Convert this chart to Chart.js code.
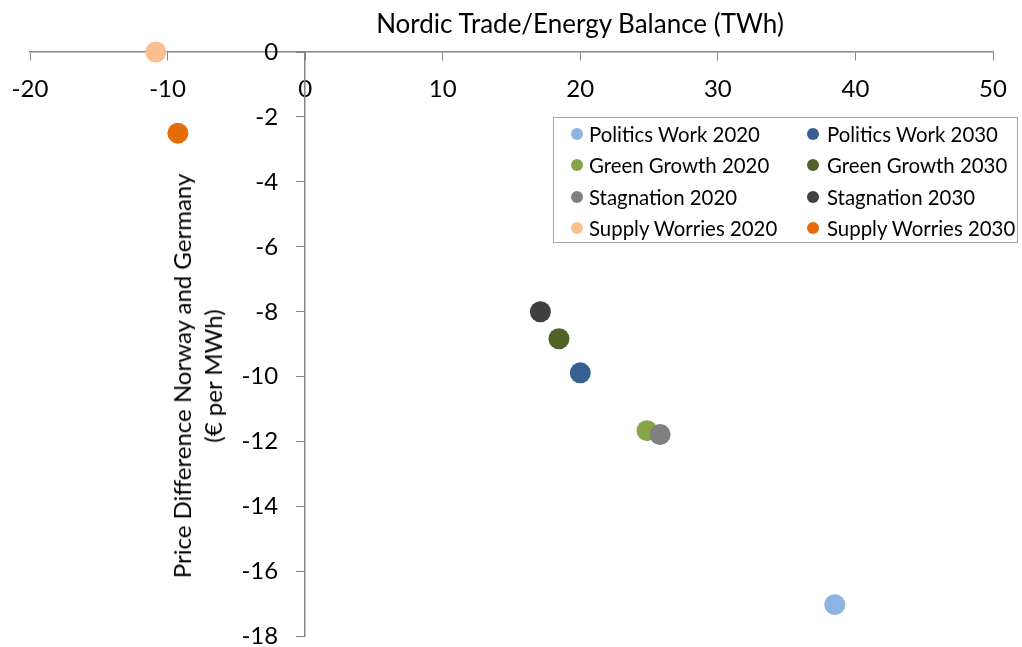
<!DOCTYPE html>
<html>
<head>
<meta charset="utf-8">
<title>Nordic Trade/Energy Balance</title>
<script src="https://cdn.jsdelivr.net/npm/chart.js@4.4.1/dist/chart.umd.min.js"></script>
<style>
  html, body { margin: 0; padding: 0; background: #fff; }
  #wrap { position: relative; width: 1022px; height: 647px; font-family: Lato, sans-serif; color: #000; }
  #chart { position: absolute; left: 0; top: 0; }
  .title-x { position: absolute; left: 580px; top: 23px; transform: translate(-50%, -50%); font-size: 26px; white-space: nowrap; }
  .title-y { position: absolute; left: 197px; top: 376px; transform: translate(-50%, -50%) rotate(-90deg);
             font-size: 24px; line-height: 31px; text-align: center; white-space: nowrap; }
  .legend { position: absolute; left: 553px; top: 117px; width: 465px; height: 126px;
            border: 1px solid #a6a6a6; box-sizing: border-box; }
  .legend .item { position: absolute; font-size: 20.4px; line-height: 22px; white-space: nowrap; transform: translateY(-50%); }
  .legend .dot { position: absolute; width: 12px; height: 12px; border-radius: 50%; transform: translate(-50%, -50%); }
</style>
</head>
<body>
<div id="wrap">
  <canvas id="chart" width="1022" height="647"></canvas>
  <div class="title-x">Nordic Trade/Energy Balance (TWh)</div>
  <div class="title-y">Price Difference Norway and Germany<br>(€ per MWh)</div>
  <div class="legend" id="legend"></div>
</div>
<script>
// Serie i kolory
const seriesNames = ['Politics Work 2020', 'Politics Work 2030', 'Green Growth 2020', 'Green Growth 2030',
                     'Stagnation 2020', 'Stagnation 2030', 'Supply Worries 2020', 'Supply Worries 2030'];
const seriesColors = ['#8db3e2', '#366092', '#86a546', '#4f6228', '#808080', '#404040', '#fac090', '#e46c0a'];

// Wartości
const tradeBalance = [38.5, 20.0, 24.85, 18.45, 25.8, 17.1, -10.85, -9.25];   // TWh
const priceDiff = [-17.02, -9.88, -11.66, -8.83, -11.78, -8.0, 0, -2.5];      // EUR/MWh

// Zakresy osi
const xTicks = [-20, -10, 0, 10, 20, 30, 40, 50];
const yTicks = [0, -2, -4, -6, -8, -10, -12, -14, -16, -18];

const axisColor = '#868686';
const tickFont = { family: 'Lato', size: 24 };
const yLabelGap = 27; // odstęp etykiet osi Y od linii osi

function noPadding(scale) {
    scale.paddingLeft = 0;
    scale.paddingRight = 0;
    scale.paddingTop = 0;
    scale.paddingBottom = 0;
}

// Etykiety osi Y przesunięte w lewo od linii osi (jak w Excelu)
const shiftYLabels = {
    id: 'shiftYLabels',
    afterLayout(chart) {
        const scale = chart.scales.y;
        if (scale._shifted) return;
        const orig = scale.drawLabels;
        scale.drawLabels = function (area) {
            const c = this.ctx;
            c.save();
            c.translate(-yLabelGap, 0);
            orig.call(this, area);
            c.restore();
        };
        scale._shifted = true;
    }
};

const datasets = seriesNames.map((name, i) => ({
    label: name,
    data: [{ x: tradeBalance[i], y: priceDiff[i] }],
    backgroundColor: seriesColors[i],
    borderWidth: 0,
    pointRadius: 10.5,
    pointHoverRadius: 10.5,
    clip: false,
    order: -i // późniejsze serie na wierzchu
}));

const ctx = document.getElementById('chart').getContext('2d');
const chart = new Chart(ctx, {
    type: 'scatter',
    data: { datasets: datasets },
    plugins: [shiftYLabels],
    options: {
        responsive: false,
        animation: false,
        events: [],
        layout: { padding: { left: 30, right: 29, top: 52, bottom: 10 } },
        plugins: {
            legend: { display: false },
            tooltip: { enabled: false }
        },
        scales: {
            x: {
                type: 'linear',
                position: { y: 0 },
                min: xTicks[0],
                max: xTicks[xTicks.length - 1],
                afterFit: noPadding,
                ticks: { stepSize: 10, font: tickFont, color: '#000', padding: 15 },
                grid: { drawOnChartArea: false, tickLength: 8, color: axisColor },
                border: { color: axisColor, width: 1.5 }
            },
            y: {
                type: 'linear',
                position: { x: 0 },
                min: yTicks[yTicks.length - 1],
                max: yTicks[0],
                afterFit: noPadding,
                ticks: { stepSize: 2, font: tickFont, color: '#000' },
                grid: { drawOnChartArea: false, tickLength: 8, color: axisColor },
                border: { color: axisColor, width: 1.5 }
            }
        }
    }
});

// Legenda w dwóch kolumnach
function buildLegend() {
    const box = document.getElementById('legend');
    const dotX = [23, 259];
    const textX = [35, 273];
    seriesNames.forEach((name, i) => {
        const col = i % 2;
        const row = Math.floor(i / 2);
        const cy = 16 + row * 31.3;
        const dot = document.createElement('div');
        dot.className = 'dot';
        dot.style.left = dotX[col] + 'px';
        dot.style.top = cy + 'px';
        dot.style.background = seriesColors[i];
        const item = document.createElement('div');
        item.className = 'item';
        item.style.left = textX[col] + 'px';
        item.style.top = cy + 'px';
        item.textContent = name;
        box.appendChild(dot);
        box.appendChild(item);
    });
}
buildLegend();
</script>
</body>
</html>
